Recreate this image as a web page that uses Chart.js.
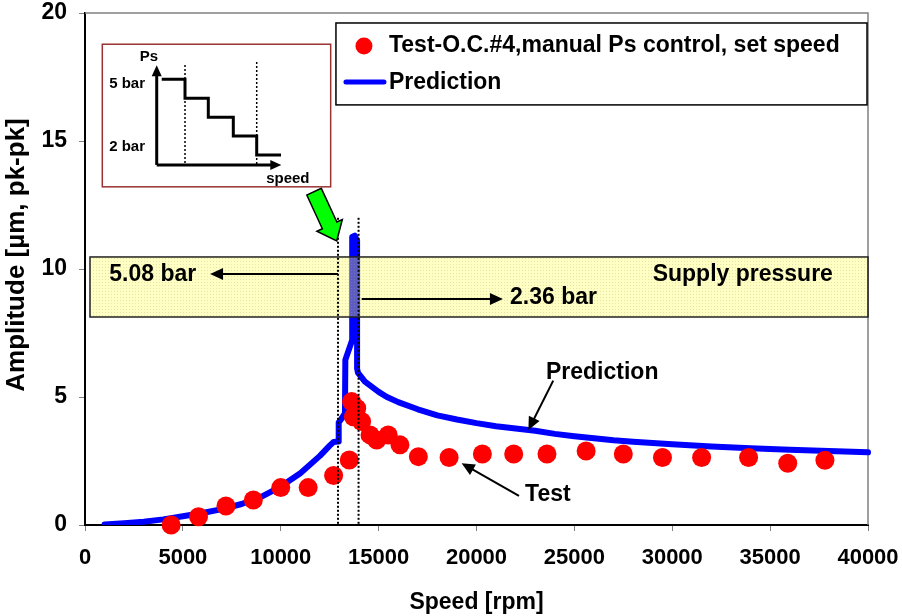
<!DOCTYPE html>
<html>
<head>
<meta charset="utf-8">
<script src="https://cdn.jsdelivr.net/npm/chart.js@4/dist/chart.umd.min.js"></script>
<style>
html, body { margin: 0; padding: 0; background: #fff; }
</style>
</head>
<body>
<canvas id="chart" width="902" height="616"></canvas>
<script>
// test points (rpm, amplitude)
var testSpeed = [4400, 5800, 7200, 8600, 10000, 11400, 12700, 13500, 13620, 13880, 13710, 14130,
    14560, 14900, 15490, 16090, 17030, 18600, 20300, 21900, 23600, 25600, 27500, 29500,
    31500, 33900, 35900, 37800];
var testAmp = [0.0, 0.32, 0.74, 0.98, 1.46, 1.46, 1.93, 2.54, 4.82, 4.56, 4.23, 4.04,
    3.52, 3.32, 3.52, 3.13, 2.67, 2.64, 2.77, 2.77, 2.77, 2.89, 2.77, 2.64,
    2.64, 2.64, 2.41, 2.53];

// prediction curve
var predSpeed = [1000, 2000, 3000, 4000, 5000, 6000, 7000, 8000, 9000, 10000, 11000, 12000,
    12500, 12700, 12930, 12960, 13100, 13280, 13300, 13650, 13650, 13780, 13900, 13900,
    13950, 14300, 15000, 15400, 16000, 17000, 18000, 19000, 20000, 21000, 22000, 23000, 24000,
    25000, 26000, 27000, 28000, 29000, 30000, 32000, 34000, 36000, 38000, 40000, 40500];
var predAmp = [0.02, 0.07, 0.13, 0.22, 0.34, 0.47, 0.62, 0.82, 1.1, 1.5, 2.02, 2.7,
    3.1, 3.24, 3.26, 4.0, 4.15, 4.36, 6.45, 7.23, 11.25, 11.3, 11.1, 6.1,
    5.94, 5.6, 5.2, 5.01, 4.8, 4.52, 4.28, 4.12, 3.98, 3.86, 3.77, 3.68, 3.56,
    3.47, 3.39, 3.31, 3.25, 3.2, 3.15, 3.07, 3.0, 2.94, 2.89, 2.84, 2.83];

var xTicks = [0, 5000, 10000, 15000, 20000, 25000, 30000, 35000, 40000];
var yTicks = [0, 5, 10, 15, 20];

var testLabel = "Test-O.C.#4,manual Ps control, set speed";
var predLabel = "Prediction";
var yTitle = "Amplitude [µm, pk-pk]";

var FONT = "'Liberation Sans', Arial, sans-serif";

function pts(xs, ys) {
    var out = [];
    for (var i = 0; i < xs.length; i++) out.push({ x: xs[i], y: ys[i] });
    return out;
}

function arrow(ctx, x1, y1, x2, y2, len, half) {
    var a = Math.atan2(y2 - y1, x2 - x1);
    ctx.beginPath();
    ctx.moveTo(x1, y1);
    ctx.lineTo(x2 - Math.cos(a) * len * 0.8, y2 - Math.sin(a) * len * 0.8);
    ctx.stroke();
    ctx.beginPath();
    ctx.moveTo(x2, y2);
    ctx.lineTo(x2 - Math.cos(a) * len - Math.sin(a) * half, y2 - Math.sin(a) * len + Math.cos(a) * half);
    ctx.lineTo(x2 - Math.cos(a) * len + Math.sin(a) * half, y2 - Math.sin(a) * len - Math.cos(a) * half);
    ctx.closePath();
    ctx.fill();
}

function bandPattern(ctx) {
    var c = document.createElement('canvas');
    c.width = 3; c.height = 3;
    var g = c.getContext('2d');
    g.fillStyle = 'rgba(255,255,90,0.36)';
    g.fillRect(0, 0, 3, 3);
    g.fillStyle = 'rgba(170,170,110,0.3)';
    g.fillRect(0, 0, 1, 1);
    return ctx.createPattern(c, 'repeat');
}

var extras = {
    id: 'extras',
    beforeDatasetsDraw: function (chart) {
        var ctx = chart.ctx, a = chart.chartArea;
        ctx.save();
        ctx.strokeStyle = '#808080';
        ctx.lineWidth = 1.5;
        ctx.beginPath();
        ctx.moveTo(a.left, a.top);
        ctx.lineTo(a.right, a.top);
        ctx.lineTo(a.right, a.bottom);
        ctx.stroke();
        // y axis title
        ctx.translate(17, (a.top + a.bottom) / 2 - 14);
        ctx.rotate(-Math.PI / 2);
        ctx.fillStyle = '#000';
        ctx.font = 'bold 26px ' + FONT;
        ctx.textAlign = 'center';
        ctx.textBaseline = 'middle';
        ctx.fillText(yTitle, 0, 0);
        ctx.restore();
    },
    afterDatasetsDraw: function (chart) {
        var ctx = chart.ctx;
        var sx = chart.scales.x, sy = chart.scales.y;
        function X(v) { return sx.getPixelForValue(v); }
        function Y(v) { return sy.getPixelForValue(v); }
        ctx.save();

        // supply pressure band
        var bx1 = X(255), bx2 = X(40000), by1 = Y(10.47), by2 = Y(8.125);
        ctx.fillStyle = bandPattern(ctx);
        ctx.fillRect(bx1, by1, bx2 - bx1, by2 - by1);
        ctx.strokeStyle = '#222';
        ctx.lineWidth = 1.5;
        ctx.strokeRect(bx1, by1, bx2 - bx1, by2 - by1);

        // dotted speed markers
        ctx.strokeStyle = '#000';
        ctx.lineWidth = 2;
        ctx.setLineDash([2, 2]);
        [12925, 13975].forEach(function (s) {
            ctx.beginPath();
            ctx.moveTo(X(s), Y(12.0));
            ctx.lineTo(X(s), Y(0));
            ctx.stroke();
        });
        ctx.setLineDash([]);

        // texts and arrows
        ctx.fillStyle = '#000';
        ctx.strokeStyle = '#000';
        ctx.lineWidth = 2;
        ctx.font = 'bold 23px ' + FONT;
        ctx.textBaseline = 'middle';
        ctx.textAlign = 'left';
        ctx.fillText('5.08 bar', X(1240), Y(9.77));
        arrow(ctx, X(12925), Y(9.8), X(6390), Y(9.8), 13, 6);
        arrow(ctx, X(14135), Y(8.83), X(21350), Y(8.83), 13, 6);
        ctx.fillText('2.36 bar', X(21710), Y(8.87));
        ctx.fillText('Supply pressure', X(29000), Y(9.77));
        ctx.fillText('Prediction', X(23550), Y(5.95));
        arrow(ctx, X(23920), Y(5.64), X(22650), Y(3.71), 13, 6);
        ctx.fillText('Test', X(22480), Y(1.17));
        arrow(ctx, X(22170), Y(1.14), X(19240), Y(2.41), 13, 6);

        // green arrow
        var tx = X(11700), ty = Y(13.02), px = X(12860), py = Y(11.1);
        var L = Math.hypot(px - tx, py - ty);
        var ux = (px - tx) / L, uy = (py - ty) / L, nx = -uy, ny = ux;
        var w = 8, hw = 14, hl = 17;
        var bxc = px - ux * hl, byc = py - uy * hl;
        ctx.beginPath();
        ctx.moveTo(tx + nx * w, ty + ny * w);
        ctx.lineTo(bxc + nx * w, byc + ny * w);
        ctx.lineTo(bxc + nx * hw, byc + ny * hw);
        ctx.lineTo(px, py);
        ctx.lineTo(bxc - nx * hw, byc - ny * hw);
        ctx.lineTo(bxc - nx * w, byc - ny * w);
        ctx.lineTo(tx - nx * w, ty - ny * w);
        ctx.closePath();
        ctx.fillStyle = '#00ff00';
        ctx.fill();
        ctx.lineWidth = 1.5;
        ctx.stroke();

        // inset sketch
        var ix = X(884), iy = Y(18.78), iw = X(12550) - ix, ih = Y(13.21) - iy;
        ctx.fillStyle = '#fff';
        ctx.fillRect(ix, iy, iw, ih);
        ctx.strokeStyle = '#993333';
        ctx.lineWidth = 1.5;
        ctx.strokeRect(ix, iy, iw, ih);
        ctx.strokeStyle = '#000';
        ctx.fillStyle = '#000';
        ctx.lineWidth = 3;
        arrow(ctx, ix + 54.4, iy + 120.7, ix + 54.4, iy + 21, 11, 5);
        arrow(ctx, ix + 54.4, iy + 120.7, ix + 179, iy + 120.7, 11, 5);
        var steps = [[59.4, 35], [82.7, 35], [82.7, 54], [106, 54], [106, 73], [131, 73],
            [131, 91.7], [154.4, 91.7], [154.4, 110.7], [178.7, 110.7]];
        ctx.beginPath();
        steps.forEach(function (p, i) {
            if (i === 0) ctx.moveTo(ix + p[0], iy + p[1]); else ctx.lineTo(ix + p[0], iy + p[1]);
        });
        ctx.stroke();
        ctx.lineWidth = 1.5;
        ctx.setLineDash([2, 2]);
        ctx.beginPath();
        ctx.moveTo(ix + 82.7, iy + 20.7); ctx.lineTo(ix + 82.7, iy + 120.7);
        ctx.moveTo(ix + 154.4, iy + 17.7); ctx.lineTo(ix + 154.4, iy + 120.7);
        ctx.stroke();
        ctx.setLineDash([]);
        ctx.font = 'bold 15px ' + FONT;
        ctx.textAlign = 'center';
        ctx.fillText('Ps', ix + 46.7, iy + 12.7);
        ctx.fillText('speed', ix + 185.5, iy + 134.7);
        ctx.textAlign = 'right';
        ctx.fillText('5 bar', ix + 42.7, iy + 39.7);
        ctx.fillText('2 bar', ix + 42.7, iy + 102.7);

        // legend box
        var lx = X(12820), ly = Y(19.61), lw = X(39950) - lx, lh = Y(16.41) - ly;
        ctx.fillStyle = '#fff';
        ctx.fillRect(lx, ly, lw, lh);
        ctx.strokeStyle = '#000';
        ctx.lineWidth = 1.5;
        ctx.strokeRect(lx, ly, lw, lh);
        ctx.fillStyle = '#ff0000';
        ctx.beginPath();
        ctx.arc(lx + 28, ly + 23, 8.5, 0, Math.PI * 2);
        ctx.fill();
        ctx.strokeStyle = '#0000ff';
        ctx.lineWidth = 5;
        ctx.lineCap = 'round';
        ctx.beginPath();
        ctx.moveTo(lx + 10, ly + 59);
        ctx.lineTo(lx + 48, ly + 59);
        ctx.stroke();
        ctx.fillStyle = '#000';
        ctx.font = 'bold 23px ' + FONT;
        ctx.textAlign = 'left';
        ctx.fillText(testLabel, lx + 53, ly + 23);
        ctx.fillText(predLabel, lx + 53, ly + 60);

        ctx.restore();
    }
};

var ctx = document.getElementById('chart');
var myChart = new Chart(ctx, {
    type: 'scatter',
    data: {
        datasets: [{
            label: testLabel,
            data: pts(testSpeed, testAmp),
            backgroundColor: '#ff0000',
            borderColor: '#ff0000',
            pointRadius: 9.5,
            pointHoverRadius: 9.5,
            borderWidth: 0,
            clip: false
        }, {
            label: predLabel,
            data: pts(predSpeed, predAmp),
            showLine: true,
            borderColor: '#0000ff',
            backgroundColor: '#0000ff',
            borderWidth: 6,
            pointRadius: 0,
            borderCapStyle: 'round',
            borderJoinStyle: 'round',
            tension: 0,
            clip: { left: 0, top: 0, right: 12, bottom: 0 }
        }]
    },
    options: {
        responsive: false,
        animation: false,
        layout: { padding: { left: 0, right: 34, top: 13, bottom: 0 } },
        plugins: { legend: { display: false }, tooltip: { enabled: false } },
        scales: {
            x: {
                type: 'linear',
                min: 0, max: 40000,
                afterBuildTicks: function (s) { s.ticks = xTicks.map(function (v) { return { value: v }; }); },
                afterFit: function (s) { s.height = 91; s.paddingLeft = 0; s.paddingRight = 0; },
                ticks: { color: '#000', font: { family: FONT, size: 22, weight: 'bold' }, padding: 14, maxRotation: 0,
                    callback: function (v) { return String(v); } },
                grid: { drawOnChartArea: false, drawTicks: true, tickLength: 6, color: '#808080' },
                border: { color: '#000', width: 2 },
                title: { display: true, text: 'Speed [rpm]', color: '#000',
                    font: { family: FONT, size: 23, weight: 'bold' }, padding: { top: 0, bottom: 0 } }
            },
            y: {
                min: 0, max: 20,
                afterBuildTicks: function (s) { s.ticks = yTicks.map(function (v) { return { value: v }; }); },
                afterFit: function (s) { s.width = 85; s.paddingTop = 0; s.paddingBottom = 0; },
                ticks: { color: '#000', font: { family: FONT, size: 23, weight: 'bold' }, padding: 12 },
                grid: { drawOnChartArea: false, drawTicks: true, tickLength: 6, color: '#808080' },
                border: { color: '#000', width: 2 }
            }
        }
    },
    plugins: [extras]
});
</script>
</body>
</html>
